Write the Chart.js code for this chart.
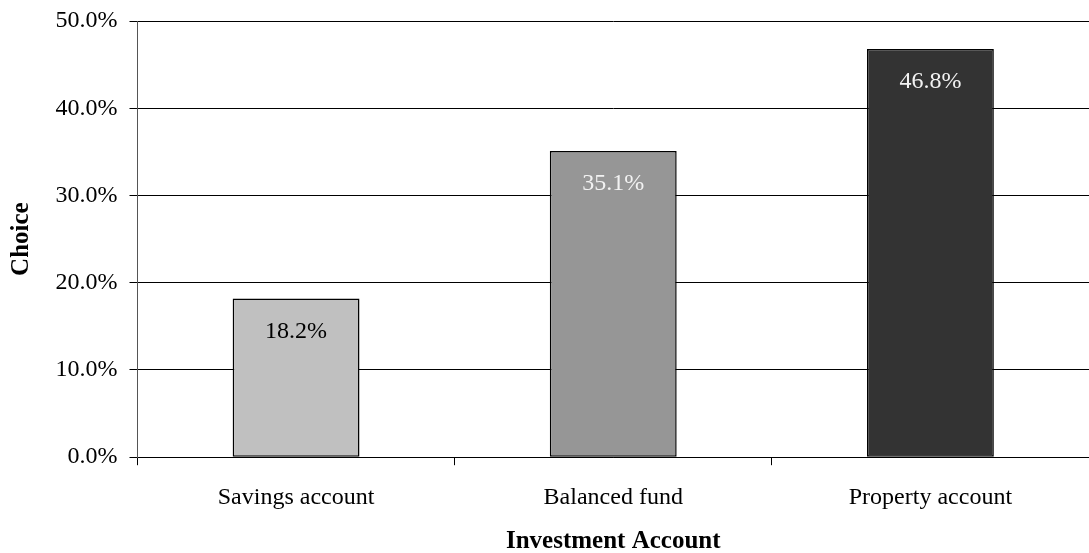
<!DOCTYPE html>
<html>
<head>
<meta charset="utf-8">
<script src="https://cdn.jsdelivr.net/npm/chart.js@4"></script>
<style>
  html, body { margin: 0; padding: 0; background: #fff; }
  #wrap { width: 1089px; height: 553px; }
</style>
</head>
<body>
<div id="wrap"><canvas id="choice_canvas"></canvas></div>
<script>
var accounts = ["Savings account", "Balanced fund", "Property account"];
var choice_pct = [18.2, 35.1, 46.8];
var bar_colors = ["#c0c0c0", "#969696", "#333333"];
var label_colors = ["#000000", "#f2f2f2", "#f2f2f2"];

var serif = "'Liberation Serif', 'DejaVu Serif', serif";

// value printed inside each bar, just under its top
var innerLabels = {
    id: 'innerLabels',
    afterDatasetsDraw: function (chart) {
        var ctx = chart.ctx;
        var meta = chart.getDatasetMeta(0);
        ctx.save();
        ctx.font = "24px " + serif;
        ctx.textAlign = 'center';
        ctx.textBaseline = 'middle';
        meta.data.forEach(function (bar, i) {
            ctx.fillStyle = label_colors[i];
            ctx.fillText(choice_pct[i].toFixed(1) + '%', bar.x, bar.y + 33);
        });
        ctx.restore();
    }
};

function choice_bar() {
    var ctx = document.getElementById("choice_canvas");
    new Chart(ctx, {
        type: 'bar',
        data: {
            labels: accounts,
            datasets: [{
                label: 'Choice',
                data: choice_pct,
                backgroundColor: bar_colors,
                borderColor: '#000',
                borderWidth: 1.5,
                borderSkipped: false,
                categoryPercentage: 1.0,
                barPercentage: 0.4
            }]
        },
        options: {
            responsive: true,
            maintainAspectRatio: false,
            animation: false,
            layout: { padding: { top: 0, right: 0, left: 8, bottom: 0 } },
            plugins: {
                legend: { display: false },
                tooltip: { enabled: false }
            },
            scales: {
                x: {
                    grid: {
                        display: true,
                        drawOnChartArea: false,
                        drawTicks: true,
                        tickLength: 8,
                        color: '#000',
                        offset: true
                    },
                    border: { color: '#000', width: 1 },
                    ticks: {
                        color: '#000',
                        padding: 18,
                        font: { family: serif, size: 24 }
                    },
                    title: {
                        display: true,
                        text: 'Investment Account',
                        color: '#000',
                        padding: { top: 0, bottom: 0 },
                        font: { family: serif, size: 25, weight: 'bold', lineHeight: 0.92 }
                    }
                },
                y: {
                    min: 0,
                    max: 50,
                    grid: {
                        color: '#000',
                        tickLength: 8
                    },
                    border: { color: '#555', width: 1 },
                    ticks: {
                        stepSize: 10,
                        color: '#000',
                        padding: 12,
                        font: { family: serif, size: 24, lineHeight: 0.75 },
                        callback: function (v) { return v.toFixed(1) + '%'; }
                    },
                    title: {
                        display: true,
                        text: 'Choice',
                        color: '#000',
                        padding: { top: 0, bottom: 8 },
                        font: { family: serif, size: 25, weight: 'bold', lineHeight: 1.1 }
                    }
                }
            }
        },
        plugins: [innerLabels]
    });
}

choice_bar();
</script>
</body>
</html>
